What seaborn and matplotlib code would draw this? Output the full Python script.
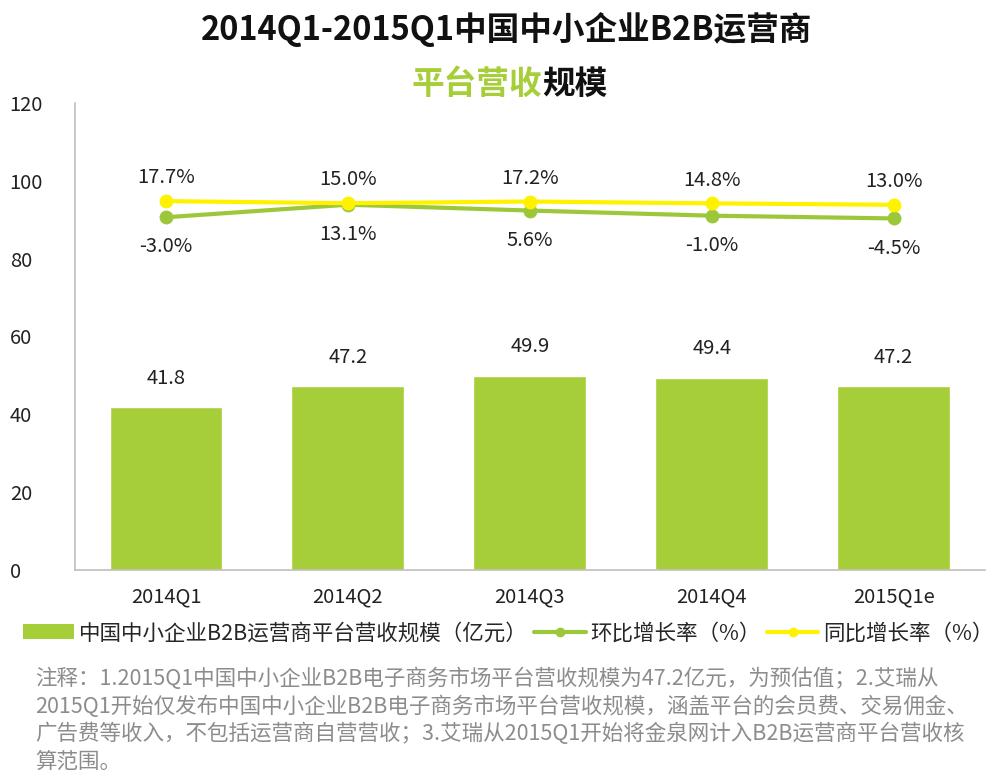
import numpy as np
import matplotlib
matplotlib.use("Agg")
import matplotlib.pyplot as plt
from matplotlib.patches import Patch
from matplotlib.lines import Line2D
import seaborn as sns

quarters = ["2014Q1", "2014Q2", "2014Q3", "2014Q4", "2015Q1e"]
revenue = [41.8, 47.2, 49.9, 49.4, 47.2]          # 亿元
qoq_growth = [-3.0, 13.1, 5.6, -1.0, -4.5]        # 环比 %
yoy_growth = [17.7, 15.0, 17.2, 14.8, 13.0]       # 同比 %

bar_name = "中国中小企业B2B运营商平台营收规模（亿元）"
qoq_name = "环比增长率（%）"
yoy_name = "同比增长率（%）"
note = ("注释：1.2015Q1中国中小企业B2B电子商务市场平台营收规模为47.2亿元，为预估值；2.艾瑞从\n"
        "2015Q1开始仅发布中国中小企业B2B电子商务市场平台营收规模，涵盖平台的会员费、交易佣金、\n"
        "广告费等收入，不包括运营商自营营收；3.艾瑞从2015Q1开始将金泉网计入B2B运营商平台营收核\n"
        "算范围。")

GREEN = "#A6CE39"
YELLOW = "#FFF200"
LINE_GREEN = "#9DC73A"
TXT = "#222222"

sns.set_theme(style="white")
plt.rcParams["font.family"] = ["Noto Sans CJK SC", "DejaVu Sans"]
plt.rcParams["axes.unicode_minus"] = False

fig = plt.figure(figsize=(10.04, 7.78), dpi=100)
ax = fig.add_axes([0.0747, 0.267, 0.906, 0.601])

x = np.arange(len(quarters))
sns.barplot(x=x, y=revenue, color=GREEN, width=0.62, saturation=1, ax=ax,
            native_scale=True)
ax.set_xlim(-0.5, len(quarters) - 0.5)
ax.set_ylim(0, 120)
ax.set_yticks(np.arange(0, 121, 20))
ax.set_xticks(x)
ax.set_xticklabels(quarters)
ax.tick_params(axis="both", length=0, labelsize=14.5, colors=TXT)
ax.tick_params(axis="x", pad=12)
ax.tick_params(axis="y", pad=47)
for lbl in ax.get_yticklabels():
    lbl.set_horizontalalignment("left")
for s in ["top", "right"]:
    ax.spines[s].set_visible(False)
for s in ["left", "bottom"]:
    ax.spines[s].set_color("#BFBFBF")
    ax.spines[s].set_linewidth(1.2)

for xi, v in zip(x, revenue):
    ax.text(xi, v + 7.5, f"{v:.1f}", ha="center", va="center", fontsize=14.5, color=TXT)

# growth rates on a hidden secondary scale
ax2 = ax.twinx()
ax2.set_ylim(-456, 144)
ax2.axis("off")
sns.lineplot(x=x, y=qoq_growth, color=LINE_GREEN, lw=3, marker="o", markersize=10,
             markeredgewidth=0, ax=ax2)
sns.lineplot(x=x, y=yoy_growth, color=YELLOW, lw=3, marker="o", markersize=10,
             markeredgewidth=0, ax=ax2)
for xi, v in zip(x, yoy_growth):
    ax2.text(xi, v + 30, f"{v:.1f}%", ha="center", va="center", fontsize=14.5, color=TXT)
for xi, v in zip(x, qoq_growth):
    ax2.text(xi, v - 38, f"{v:.1f}%", ha="center", va="center", fontsize=14.5, color=TXT)
ax2.set_xlim(-0.5, len(quarters) - 0.5)

# title
fig.text(0.505, 0.962, "2014Q1-2015Q1中国中小企业B2B运营商", ha="center", va="center",
         fontsize=23.5, fontweight="bold", color="#111111")
t1 = fig.text(0.6, 0.891, "规模", ha="center", va="center", fontsize=23.5,
              fontweight="bold", color="#111111")
t0 = fig.text(0.54, 0.891, "平台营收", ha="right", va="center", fontsize=23.5,
              fontweight="bold", color=GREEN)
fig.canvas.draw()
bb = t0.get_window_extent()
t1.set_x(bb.x1 / fig.bbox.width)
t1.set_horizontalalignment("left")

handles = [
    Patch(facecolor=GREEN, edgecolor="none"),
    Line2D([0], [0], color=LINE_GREEN, lw=3, marker="o", markersize=7, markeredgewidth=0),
    Line2D([0], [0], color=YELLOW, lw=3, marker="o", markersize=7, markeredgewidth=0),
]
fig.legend(handles, [bar_name, qoq_name, yoy_name], loc="center left",
           bbox_to_anchor=(0.012, 0.186), ncol=3, frameon=False, fontsize=15.5,
           handlelength=2.4, handletextpad=0.2, columnspacing=0.3, borderpad=0)

fig.text(0.035, 0.142, note, ha="left", va="top", fontsize=15.5, color="#8C8C8C",
         linespacing=1.3)

fig.savefig("out.png", dpi=100)
